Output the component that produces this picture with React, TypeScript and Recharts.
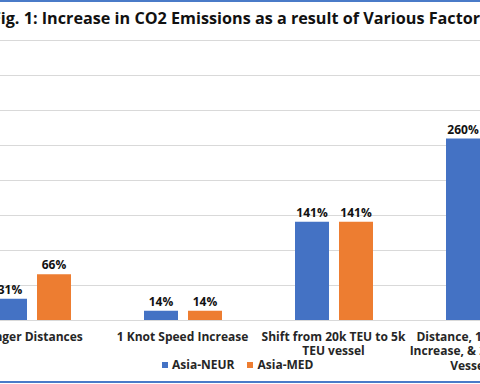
import { BarChart, Bar, XAxis, YAxis, CartesianGrid, LabelList, Legend } from 'recharts';

const categories = [
  'Longer Distances',
  '1 Knot Speed Increase',
  'Shift from 20k TEU to 5k TEU vessel',
  'Distance, 1 Knot Speed Increase, & 20k to 5k TEU Vessel Shift',
];
// how each category label wraps under the axis
const categoryLines = [
  ['Longer Distances'],
  ['1 Knot Speed Increase'],
  ['Shift from 20k TEU to 5k', 'TEU vessel'],
  ['Distance, 1 Knot Speed', 'Increase, & 20k to 5k TEU', 'Vessel Shift'],
];
const seriesNames = ['Asia-NEUR', 'Asia-MED'];
const asiaNeur = [31, 14, 141, 260];
const asiaMed = [66, 14, 141, null];
const yTicks = [0, 50, 100, 150, 200, 250, 300, 350, 400];

const FONT = '"Open Sans", "Noto Sans", sans-serif';
const BLUE = '#4472C4';
const ORANGE = '#ED7D31';

const data = categories.map((name, i) => ({ name, neur: asiaNeur[i], med: asiaMed[i] }));

const CategoryTick = ({ x, y, payload }: any) => {
  const lines = categoryLines[categories.indexOf(payload.value)] || [payload.value];
  return (
    <text x={x} y={y} textAnchor="middle" fill="#262626" fontSize={12} fontWeight={700} fontFamily={FONT}>
      {lines.map((line, i) => (
        <tspan key={i} x={x} dy={i === 0 ? 12 : 14.5}>{line}</tspan>
      ))}
    </text>
  );
};

// keep the legend in series order (Recharts sorts it by name)
const LegendContent = ({ payload }: any) => {
  const items = [...(payload || [])].sort(
    (a: any, b: any) => seriesNames.indexOf(a.value) - seriesNames.indexOf(b.value)
  );
  return (
    <div style={{ display: 'flex', gap: 13, fontFamily: FONT, fontSize: 12, fontWeight: 700, color: '#262626' }}>
      {items.map((entry: any) => (
        <div key={entry.value} style={{ display: 'flex', alignItems: 'center', gap: 4 }}>
          <span style={{ width: 6, height: 6, background: entry.color, display: 'inline-block' }} />
          {entry.value}
        </div>
      ))}
    </div>
  );
};

const pct = (v: any) => (v == null ? '' : `${v}%`);

export default function App() {
  return (
    <div style={{ position: 'fixed', left: 0, top: 0, width: 480, height: 384, overflow: 'hidden', background: '#fff' }}>
      {/* frame lines of the original box */}
      <div style={{ position: 'absolute', left: 0, top: 0, width: 480, height: 1.5, background: '#4A7BC8' }} />
      <div style={{ position: 'absolute', left: 0, top: 381, width: 480, height: 2, background: '#4A7BC8' }} />

      <div
        style={{
          position: 'absolute', left: 240, top: 7, transform: 'translateX(-50%)', whiteSpace: 'nowrap',
          fontFamily: FONT, fontSize: 16.2, fontWeight: 700, color: '#111',
        }}
      >
        Fig. 1: Increase in CO2 Emissions as a result of Various Factors
      </div>

      <div style={{ position: 'absolute', left: -100, top: 0 }}>
        <BarChart
          width={700}
          height={384}
          data={data}
          margin={{ top: 40.5, right: 40, bottom: 0, left: 56 }}
          barSize={34}
          barGap={10}
          style={{ fontFamily: FONT }}
        >
          <CartesianGrid vertical={false} stroke="#D9D9D9" />
          <XAxis
            dataKey="name"
            interval={0}
            height={63.5}
            tickLine={false}
            axisLine={{ stroke: '#D9D9D9' }}
            tick={<CategoryTick />}
          />
          <YAxis hide domain={[0, 400]} ticks={yTicks} />
          <Legend
            layout="horizontal"
            verticalAlign="middle"
            align="center"
            content={<LegendContent />}
            wrapperStyle={{ top: 356, left: 262, width: 'auto' }}
          />
          <Bar dataKey="neur" name={seriesNames[0]} fill={BLUE} isAnimationActive={false}>
            <LabelList dataKey="neur" position="top" formatter={pct} fill="#111" fontSize={12} fontWeight={700} />
          </Bar>
          <Bar dataKey="med" name={seriesNames[1]} fill={ORANGE} isAnimationActive={false}>
            <LabelList dataKey="med" position="top" formatter={pct} fill="#111" fontSize={12} fontWeight={700} />
          </Bar>
        </BarChart>
      </div>
    </div>
  );
}
